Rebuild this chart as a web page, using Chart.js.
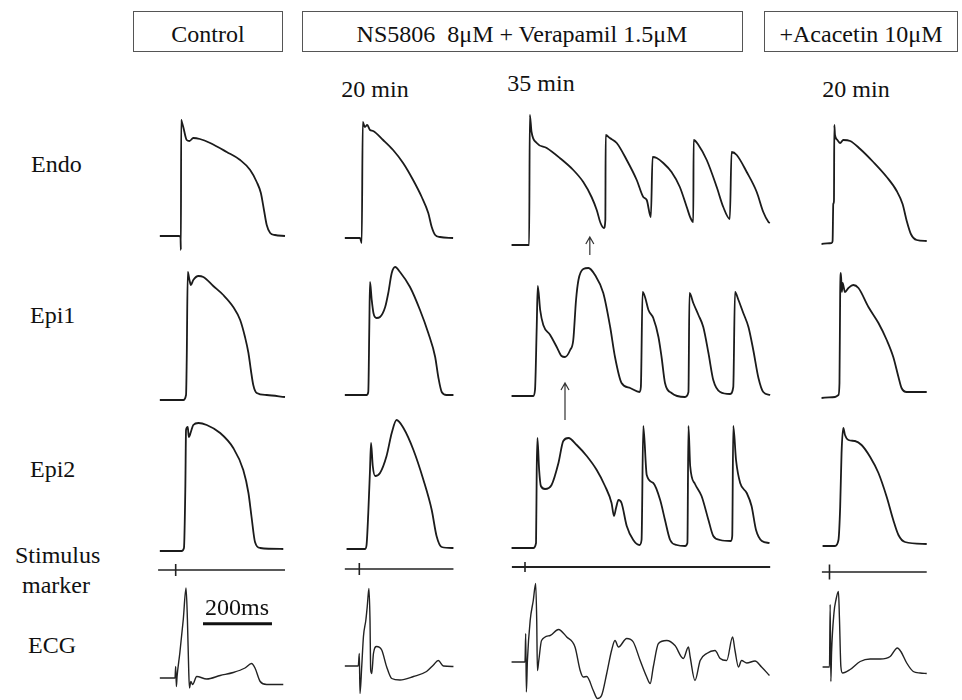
<!DOCTYPE html>
<html>
<head>
<meta charset="utf-8">
<script src="https://cdn.jsdelivr.net/npm/chart.js@4.4.0/dist/chart.umd.min.js"></script>
<style>
    body { margin: 0; background: #fff; }
    #fig { position: relative; width: 962px; height: 700px; overflow: hidden; font-family: 'Liberation Serif', 'Times New Roman', Times, 'DejaVu Serif', 'Noto Serif', serif; color: #111; }
    .lbl { position: absolute; font-size: 24px; line-height: 24px; white-space: pre; }
    .mid { transform: translateX(-50%); }
    .box { position: absolute; border: 1px solid #555; box-sizing: border-box; }
    canvas { position: absolute; }
</style>
</head>
<body>
<div id="fig"></div>
<script>
// Texts
const conditions = ['Control', 'NS5806  8μM + Verapamil 1.5μM', '+Acacetin 10μM'];
const timepoints = ['20 min', '35 min', '20 min'];
const rowLabels = ['Endo', 'Epi1', 'Epi2', 'Stimulus', 'marker', 'ECG'];
const scaleBarLabel = '200ms';
const SCALE_BAR_MS = 200;

// Action potentials: [time ms, membrane potential mV]
const endoControl = [[14,-85],[70,-85],[74,-86],[75,-99],[76,31],[77,30],[82,24],[92,11],[100,10],[111,13],[130,12],[160,8],[208,-1],[247,-9],[276,-19],[295,-31],[307,-42],[316,-59],[324,-74],[334,-82],[348,-84],[377,-85]];
const endo20 = [[14,-85],[58,-85],[63,-90],[66,31],[72,26],[79,28],[87,23],[96,22],[125,13],[154,3],[183,-10],[212,-27],[237,-44],[256,-60],[266,-74],[276,-82],[290,-84],[328,-85]];
const endo35 = [[19,-85],[70,-85],[72,45],[77,28],[92,17],[121,12],[159,2],[198,-10],[227,-22],[251,-37],[266,-50],[277,-63],[287,-68],[291,-60],[292,25],[304,22],[324,17],[353,0],[382,-20],[401,-37],[411,-40],[423,-57],[428,3],[440,2],[459,-3],[483,-12],[507,-27],[527,-47],[538,-58],[546,-62],[547,20],[561,15],[585,0],[614,-27],[633,-47],[652,-59],[657,8],[672,5],[701,-12],[730,-32],[749,-52],[764,-62],[768,-63]];
const endoAcacetin = [[19,-86],[48,-85],[51,-83],[53,-46],[55,-43],[56,33],[58,23],[65,18],[73,15],[82,18],[102,17],[131,9],[169,-4],[208,-19],[237,-33],[254,-46],[266,-63],[278,-76],[295,-82],[324,-83]];

const epi1Control = [[14,-87],[82,-87],[90,-82],[92,-47],[95,41],[100,33],[104,28],[111,33],[126,37],[140,36],[169,27],[198,18],[227,6],[247,-7],[261,-24],[271,-40],[278,-57],[285,-72],[295,-80],[324,-82],[377,-84]];
const epi1_20 = [[14,-85],[77,-85],[82,-82],[85,-17],[87,28],[92,10],[97,-3],[106,-8],[116,-7],[131,3],[140,17],[150,37],[160,43],[174,38],[203,23],[232,0],[256,-23],[276,-47],[285,-67],[295,-82],[309,-85],[329,-85]];
const epi1_35 = [[19,-85],[82,-85],[87,-79],[92,-16],[95,25],[102,1],[111,-14],[131,-24],[150,-36],[164,-45],[174,-46],[189,-39],[198,-29],[206,11],[213,31],[227,42],[242,43],[261,36],[285,18],[305,-16],[319,-46],[338,-72],[363,-77],[390,-81],[394,-76],[399,19],[406,14],[416,1],[430,-7],[445,-26],[454,-46],[464,-72],[483,-82],[522,-86],[532,-81],[535,18],[546,8],[561,-4],[575,-16],[590,-42],[604,-69],[624,-81],[653,-83],[662,-76],[667,19],[677,11],[691,-2],[706,-16],[720,-39],[735,-67],[749,-81],[769,-84]];
const epi1Acacetin = [[19,-86],[58,-85],[68,-83],[71,-71],[73,19],[75,39],[78,20],[80,29],[87,20],[97,24],[111,27],[126,24],[155,5],[184,-11],[208,-28],[227,-45],[242,-65],[251,-76],[266,-80],[324,-80]];

const epi2Control = [[14,-85],[77,-85],[84,-82],[88,-21],[90,36],[95,39],[98,29],[104,34],[111,41],[126,43],[150,41],[189,33],[227,18],[256,-4],[271,-27],[280,-51],[290,-76],[305,-82],[372,-83]];
const epi2_20 = [[19,-85],[73,-85],[77,-81],[82,-49],[87,-6],[90,21],[95,-2],[102,-12],[116,-9],[135,8],[150,31],[164,44],[184,36],[213,14],[242,-16],[266,-46],[280,-72],[295,-83],[329,-84]];
const epi2_35 = [[19,-85],[82,-85],[90,-80],[92,-7],[94,25],[99,-7],[104,-23],[116,-26],[135,-22],[155,0],[169,22],[184,25],[208,18],[237,7],[266,-7],[290,-23],[309,-40],[316,-53],[322,-45],[329,-37],[338,-40],[353,-63],[372,-77],[390,-82],[396,-77],[401,37],[411,-12],[430,-20],[450,-37],[464,-57],[479,-77],[498,-82],[522,-83],[529,-80],[532,37],[537,-3],[551,-21],[570,-33],[590,-57],[604,-73],[624,-77],[655,-78],[659,-73],[662,37],[670,3],[682,-20],[701,-30],[715,-43],[728,-67],[745,-78],[767,-80]];
const epi2Acacetin = [[22,-85],[58,-85],[68,-79],[73,-46],[77,8],[82,33],[87,26],[97,21],[116,20],[135,16],[160,4],[184,-12],[208,-36],[227,-59],[242,-74],[261,-81],[324,-83]];

// Stimulus marker: recording span and pulse time (ms)
const stimStart = [9, 14, 20, 20];
const stimEnd = [377, 329, 769, 324];
const stimPulse = [60, 56, 58, 42];

// ECG: [time ms, mV]
const ecgControl = [[14,0],[58,0],[60,0.23],[62,-0.17],[64,0.03],[72,0.5],[82,1.17],[90,1.8],[94,1.17],[98,0.1],[100,-0.2],[104,-0.07],[109,-0.13],[121,0.03],[150,-0.02],[189,0.05],[227,0.11],[261,0.2],[280,0.29],[290,0.2],[305,-0.07],[324,-0.13],[372,-0.13]];
const ecg20 = [[14,0],[53,0],[56,0.25],[58,-0.55],[63,-0.01],[68,0.59],[75,0.92],[79,1.19],[84,1.55],[87,0.92],[89,-0.08],[92,-0.15],[97,0.25],[106,0.39],[121,0.32],[135,-0.01],[150,-0.25],[174,-0.28],[213,-0.21],[251,-0.11],[271,0.02],[285,0.11],[300,0],[329,-0.01]];
const ecg35 = [[19,0],[58,0],[60,0.57],[62,-0.6],[65,0.03],[73,0.83],[82,1.23],[89,1.57],[92,0.83],[94,-0.17],[98,0.03],[106,0.43],[131,0.53],[155,0.65],[179,0.5],[203,0.3],[218,-0.17],[227,-0.3],[237,-0.29],[256,-0.57],[268,-0.73],[280,-0.67],[295,-0.23],[309,0.23],[319,0.43],[329,0.3],[353,0.47],[372,0.4],[392,0.03],[411,-0.3],[421,-0.43],[430,-0.1],[445,0.37],[469,0.43],[493,0.33],[517,0.07],[532,0.3],[537,0.1],[551,-0.37],[566,0.03],[585,0.17],[609,0.23],[624,0.07],[643,0.03],[660,0.5],[667,0.23],[677,-0.1],[686,0.03],[701,-0.02],[725,0.02],[744,-0.1],[767,-0.27]];
const ecgAcacetin = [[22,0],[42,0],[44,1.25],[46,-0.29],[48,0.28],[55,1.08],[61,1.35],[68,1.51],[71,0.95],[75,0.01],[80,-0.12],[102,-0.05],[131,0.11],[160,0.16],[189,0.16],[218,0.21],[239,0.38],[249,0.31],[266,0.08],[285,-0.09],[305,-0.12],[324,-0.13]];

// Arrows in the 35 min column: [time ms, tail mV, head mV]
const arrowEndo = [246, -95, -77];
const arrowEpi1 = [174, -109, -72];

// Layout (pixels)
const MS_PER_PX = 2.9;
const colLeft = [155, 340, 505, 815];
const colWidth = [140, 125, 275, 125];
const endoBase = [236, 238, 245, 242.5];
const epi1Base = [398, 395, 396, 397];
const epi2Base = [551, 549.3, 548.3, 546];
const stimY = [570, 569, 566.7, 571.7];
const ecgBase = [678.3, 666, 661.7, 667.3];

const fig = document.getElementById('fig');

function addText(text, x, top, centered) {
    const d = document.createElement('div');
    d.className = 'lbl' + (centered ? ' mid' : '');
    d.style.left = x + 'px';
    d.style.top = top + 'px';
    d.textContent = text;
    fig.appendChild(d);
}

function addBox(left, top, width, height) {
    const d = document.createElement('div');
    d.className = 'box';
    d.style.left = left + 'px';
    d.style.top = top + 'px';
    d.style.width = width + 'px';
    d.style.height = height + 'px';
    fig.appendChild(d);
}

function trace(points, width, color, smooth) {
    const ds = {
        data: points.map(p => ({ x: p[0], y: p[1] })),
        showLine: true,
        pointRadius: 0,
        borderColor: color || '#1b1b1b',
        borderWidth: width || 1.8,
        tension: 0,
        clip: false
    };
    if (smooth) {
        ds.cubicInterpolationMode = 'monotone';
        ds.tension = 0.4;
    }
    return ds;
}

const arrowPlugin = (arrow) => ({
    id: 'arrow',
    afterDatasetsDraw(chart) {
        const ctx = chart.ctx;
        const x = chart.scales.x.getPixelForValue(arrow[0]);
        const y0 = chart.scales.y.getPixelForValue(arrow[1]);
        const y1 = chart.scales.y.getPixelForValue(arrow[2]);
        ctx.save();
        ctx.strokeStyle = '#333';
        ctx.lineWidth = 1.2;
        ctx.beginPath();
        ctx.moveTo(x, y0);
        ctx.lineTo(x, y1);
        ctx.moveTo(x - 4, y1 + 7);
        ctx.lineTo(x, y1);
        ctx.lineTo(x + 4, y1 + 7);
        ctx.stroke();
        ctx.restore();
    }
});

function panel(col, top, height, yMin, yMax, datasets, extra) {
    const c = document.createElement('canvas');
    c.width = colWidth[col];
    c.height = height;
    c.style.left = colLeft[col] + 'px';
    c.style.top = top + 'px';
    fig.appendChild(c);
    return new Chart(c.getContext('2d'), {
        type: 'scatter',
        data: { datasets: datasets },
        options: {
            responsive: false,
            animation: false,
            events: [],
            layout: { padding: 0 },
            plugins: { legend: { display: false }, tooltip: { enabled: false } },
            scales: {
                x: { type: 'linear', display: false, min: 0, max: colWidth[col] * MS_PER_PX },
                y: { type: 'linear', display: false, min: yMin, max: yMax }
            }
        },
        plugins: extra ? [extra] : []
    });
}

document.addEventListener('DOMContentLoaded', () => {
    // header boxes and labels
    addBox(133, 11, 150, 41);
    addBox(302, 11, 441, 41);
    addBox(764, 11, 194, 41);
    addText(conditions[0], 208, 22, true);
    addText(conditions[1], 522, 22, true);
    addText(conditions[2], 861, 22, true);
    addText(timepoints[0], 375, 77, true);
    addText(timepoints[1], 541, 71, true);
    addText(timepoints[2], 856, 77, true);

    addText(rowLabels[0], 31, 152);
    addText(rowLabels[1], 30, 303);
    addText(rowLabels[2], 30, 457);
    addText(rowLabels[3], 15, 543);
    addText(rowLabels[4], 22, 573);
    addText(rowLabels[5], 28, 633);

    // action potential rows: 1 px per mV, -115..55 mV
    const rows = [
        [endoControl, endo20, endo35, endoAcacetin],
        [epi1Control, epi1_20, epi1_35, epi1Acacetin],
        [epi2Control, epi2_20, epi2_35, epi2Acacetin]
    ];
    const bases = [endoBase, epi1Base, epi2Base];
    rows.forEach((row, r) => {
        row.forEach((pts, col) => {
            let extra = null;
            if (col === 2 && r === 0) extra = arrowPlugin(arrowEndo);
            if (col === 2 && r === 1) extra = arrowPlugin(arrowEpi1);
            panel(col, bases[r][col] - 140, 170, -115, 55, [trace(pts, 1.8, '#1b1b1b', true)], extra);
        });
    });

    // stimulus marker rows
    const tickHalf = [0.6, 0.6, 0.5, 0.75];
    for (let col = 0; col < 4; col++) {
        panel(col, stimY[col] - 10, 20, -1, 1, [
            trace([[stimStart[col], 0], [stimEnd[col], 0]], col === 2 ? 2.2 : 1.3, '#222'),
            trace([[stimPulse[col], -tickHalf[col]], [stimPulse[col], tickHalf[col]]], 1.6, '#222')
        ]);
    }

    // ECG rows: 50 px per mV
    const ecgs = [ecgControl, ecg20, ecg35, ecgAcacetin];
    ecgs.forEach((pts, col) => {
        const sets = [trace(pts, 1.4, '#222', true)];
        if (col === 0) {
            const barStart = (203 - colLeft[0]) * MS_PER_PX;
            const barY = (ecgBase[0] - 624) / 50;
            sets.push(trace([[barStart, barY], [barStart + SCALE_BAR_MS, barY]], 3, '#111'));
        }
        panel(col, ecgBase[col] - 100, 150, -1, 2, sets);
    });
    addText(scaleBarLabel, 237, 595, true);
});
</script>
</body>
</html>
